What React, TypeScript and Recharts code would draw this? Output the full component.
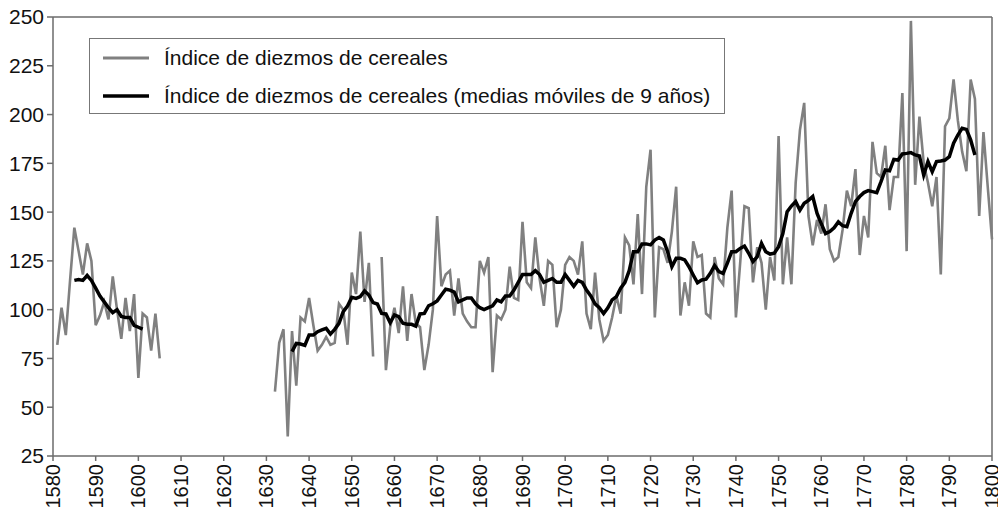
import { Legend, Line, LineChart, ReferenceLine, XAxis, YAxis } from "recharts";

// Índice de diezmos de cereales, 1581–1605
const earlyStart = 1581;
const earlyIndex = [
  82, 101, 87, 115, 142, 130, 118, 134, 125, 92, 97, 104, 95, 117, 100, 85, 106, 89, 108, 65,
  98, 96, 79, 98, 75,
];

// medias móviles de 9 años, 1585–1601
const earlyAvgStart = 1585;
const earlyAvg = [115, 115.5, 115, 117.5, 115, 111, 107, 104, 101, 98.5, 100, 96.5, 96, 96, 92, 91, 90];

// Índice de diezmos de cereales, 1632–1800 (1656 sin dato)
const lateStart = 1632;
const lateIndex: (number | null)[] = [
  58, 83, 90, 35, 89, 61, 96, 94, 106, 92, 79, 82, 86, 82, 83, 103, 100, 82, 119, 108,
  140, 104, 124, 76, null, 127, 69, 91, 101, 88, 112, 84, 108, 93, 91, 69, 82, 100, 148, 112,
  118, 120, 97, 116, 98, 94, 91, 91, 125, 119, 127, 68, 97, 95, 100, 122, 106, 105, 145, 114,
  111, 137, 116, 102, 125, 123, 91, 100, 123, 127, 125, 118, 135, 98, 90, 119, 95, 84, 87, 96,
  107, 98, 137, 133, 113, 149, 108, 163, 182, 96, 132, 131, 124, 140, 163, 97, 114, 102, 135, 127,
  128, 98, 96, 127, 116, 113, 142, 161, 96, 124, 153, 152, 114, 132, 124, 100, 127, 115, 189, 113,
  137, 113, 165, 192, 206, 148, 133, 146, 139, 154, 131, 125, 127, 141, 161, 153, 172, 128, 148, 137,
  186, 170, 168, 184, 151, 168, 168, 211, 130, 248, 164, 199, 175, 165, 153, 168, 118, 194, 198, 218,
  197, 181, 171, 218, 208, 148, 191, 163, 136,
];

// medias móviles de 9 años, 1636–1796
const lateAvgStart = 1636;
const lateAvg = [
  78.5, 82.7, 82.4, 81.7, 87, 87, 88.7, 89.6, 90.4, 87.5, 89.9, 93, 99, 101.9, 106.3, 105.8, 106.7, 109.6, 107.5, 103.6,
  102.9, 98.1, 97.8, 93.3, 97.3, 96.4, 93, 92.5, 92.5, 91.6, 97.8, 98.1, 102, 103, 104.5, 107.5, 110.5, 110, 109, 104,
  105, 106, 106, 103, 101, 100, 101, 102, 105, 104, 107, 107, 110, 114, 118, 118, 118, 120, 118, 114,
  115, 116, 114, 114, 118, 115, 112, 115, 114, 110, 107, 103, 101, 98, 101, 105, 106.7, 111, 114, 120,
  129.7, 129.7, 133.7, 133.7, 133.2, 135.7, 137, 135.7, 129.7, 122, 126.3, 126.3, 125.5, 122, 117.8, 113.8, 115.2, 115.6, 118.6, 122.6,
  119.5, 118.6, 123.8, 129.7, 129.7, 131.4, 132.6, 128.9, 124.6, 127.2, 134, 129.7, 128.5, 128.9, 132.3, 139, 150.2, 153.1, 155.4, 151,
  154.5, 156, 158, 149.4, 144, 139, 140, 142, 145, 143, 142.5, 149.4, 155.4, 158, 160, 161, 160.5, 160, 165.6, 171.6,
  171.2, 177, 176.7, 179.8, 180.1, 180.5, 179.3, 178.8, 169, 175.9, 170.7, 175.9, 176.2, 176.7, 178.4, 185.3, 189.5, 193, 192.4, 187,
  179.3,
];

const xTicks = [1580, 1590, 1600, 1610, 1620, 1630, 1640, 1650, 1660, 1670, 1680, 1690, 1700, 1710, 1720, 1730, 1740, 1750, 1760, 1770, 1780, 1790, 1800];
const yTicks = [25, 50, 75, 100, 125, 150, 175, 200, 225, 250];

const seriesNames = {
  index: "Índice de diezmos de cereales",
  avg: "Índice de diezmos de cereales (medias móviles de 9 años)",
};

const GRAY = "#808080";
const AXIS = "#6b6b6b";
const FONT = "'Liberation Sans', Arial, Helvetica, sans-serif";

function pick(values: (number | null)[], start: number, year: number) {
  const i = year - start;
  return i >= 0 && i < values.length ? values[i] : null;
}

const data: { year: number; index: number | null; avg: number | null }[] = [];
for (let year = 1580; year <= 1800; year++) {
  data.push({
    year,
    index: pick(earlyIndex, earlyStart, year) ?? pick(lateIndex, lateStart, year),
    avg: pick(earlyAvg, earlyAvgStart, year) ?? pick(lateAvg, lateAvgStart, year),
  });
}

function YearTick({ x, y, payload }: any) {
  return (
    <text
      x={x}
      y={y}
      transform={`rotate(-90, ${x}, ${y})`}
      textAnchor="end"
      dominantBaseline="central"
      fontSize={20}
      fontFamily={FONT}
      fill="#111"
    >
      {payload.value}
    </text>
  );
}

function LegendBox() {
  const rows = [
    { name: seriesNames.index, color: GRAY, width: 3 },
    { name: seriesNames.avg, color: "#000", width: 3.5 },
  ];
  return (
    <div
      style={{
        width: 636,
        height: 76,
        boxSizing: "border-box",
        border: "1px solid #777",
        background: "#fff",
        fontFamily: FONT,
        fontSize: 21,
        color: "#111",
      }}
    >
      {rows.map((r) => (
        <div key={r.name} style={{ display: "flex", alignItems: "center", height: 38 }}>
          <svg width={74} height={10} style={{ flex: "none" }}>
            <line x1={13} x2={59} y1={5} y2={5} stroke={r.color} strokeWidth={r.width} />
          </svg>
          <span style={{ whiteSpace: "nowrap" }}>{r.name}</span>
        </div>
      ))}
    </div>
  );
}

export default function App() {
  return (
    <div style={{ width: 998, height: 510, background: "#fff" }}>
      <style>{"body{margin:0}"}</style>
      <LineChart width={998} height={510} data={data} margin={{ top: 17, right: 6, bottom: 0, left: 0 }}>
        <XAxis
          dataKey="year"
          type="number"
          domain={[1580, 1800]}
          ticks={xTicks}
          interval={0}
          height={54}
          tick={<YearTick />}
          tickSize={5}
          tickMargin={3}
          stroke={AXIS}
          strokeWidth={1.5}
        />
        <YAxis
          domain={[25, 250]}
          ticks={yTicks}
          interval={0}
          width={53}
          tickSize={6}
          tickMargin={3}
          stroke={AXIS}
          strokeWidth={1.5}
          tick={{ fontSize: 21, fontFamily: FONT, fill: "#111" }}
        />
        <ReferenceLine y={250} stroke={AXIS} strokeWidth={1.5} />
        <ReferenceLine x={1800} stroke={AXIS} strokeWidth={1.5} />
        <Line
          type="linear"
          dataKey="index"
          name={seriesNames.index}
          stroke={GRAY}
          strokeWidth={2.6}
          dot={false}
          isAnimationActive={false}
        />
        <Line
          type="linear"
          dataKey="avg"
          name={seriesNames.avg}
          stroke="#000"
          strokeWidth={3.5}
          dot={false}
          isAnimationActive={false}
        />
        <Legend
          layout="vertical"
          align="center"
          verticalAlign="middle"
          content={<LegendBox />}
          wrapperStyle={{ top: 38, left: 89, width: 636, height: 76 }}
        />
      </LineChart>
    </div>
  );
}
